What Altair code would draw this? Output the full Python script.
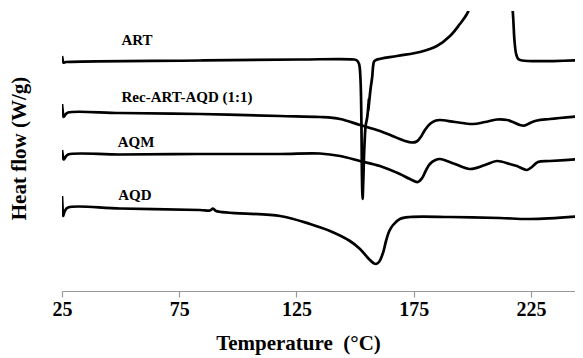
import altair as alt
import pandas as pd

# Temperature (°C) and relative heat flow (arbitrary offset units)
art_t = [25.0, 25.3, 25.6, 26.7, 83.8, 126.5, 149.5, 150.8, 151.7, 152.3, 152.7, 152.9, 153.2,
         153.5, 153.9, 154.5, 155.2, 155.9, 155.6, 156.6, 157.3, 157.7, 158.1, 158.9, 167.9,
         177.7, 184.9, 190.5, 194.7, 197.7, 199.8, 203.2, 209.6, 213.9, 216.3, 217.3, 218.0,
         218.7, 219.6, 221.2, 247.2]
art_v = [235, 231, 228.5, 229, 230.5, 231.5, 231.5, 230.5, 227, 212, 170, 120, 92,
         110, 140, 165, 174, 192, 180, 202, 214, 225, 229.5, 231, 235,
         239, 245, 255, 267, 277, 290, 330, 370, 350, 300, 278, 250,
         237, 232, 230.5, 231]

rec_t = [25.0, 25.3, 25.7, 26.5, 27.6, 49.7, 83.8, 118.0, 135.0, 143.6, 152.1, 160.6, 167.0,
         171.3, 174.3, 176.3, 178.3, 179.8, 181.9, 184.5, 186.2, 192.6, 200.3, 205.4, 210.5,
         214.8, 217.3, 220.3, 222.4, 224.6, 227.6, 233.1, 247.2]
rec_v = [187, 180, 174, 176.5, 178.5, 178, 177, 175, 174, 172, 166, 160, 154,
         150, 148.5, 149.5, 155, 161, 167, 170.5, 171, 169, 167, 169, 171.5,
         171, 169, 166, 165.5, 168, 170.5, 172, 175]

aqm_t = [25.0, 25.3, 25.7, 26.5, 27.6, 49.7, 83.8, 118.0, 135.0, 143.6, 152.1, 160.6, 169.1,
         173.4, 176.8, 178.6, 180.1, 181.9, 184.3, 186.2, 192.6, 199.0, 205.4, 210.5, 216.0,
         219.0, 223.3, 225.4, 228.0, 233.1, 247.2]
aqm_v = [141, 136, 131.5, 134, 136.5, 136.5, 137, 137, 137.5, 135, 130, 125, 117,
         112, 109, 113, 120, 127, 131, 132, 127, 122, 126, 130, 127,
         125, 121, 124, 129, 130, 132]

aqd_t = [25.0, 25.2, 25.5, 26.2, 27.6, 49.7, 83.8, 88.1, 89.4, 90.7, 118.0, 130.8, 139.3,
         147.8, 152.1, 155.5, 157.8, 158.9, 160.2, 161.9, 163.2, 164.6, 166.2, 169.1, 173.4,
         190.5, 211.8, 224.6, 247.2]
aqd_v = [95, 85, 75, 80, 83.5, 82.5, 81, 80.5, 82.5, 80, 75, 67, 60,
         50, 42, 33, 28, 27, 29, 38, 50, 60, 66, 72, 74,
         74, 73, 72, 75]

series_names = ["ART", "Rec-ART-AQD (1:1)", "AQM", "AQD"]
label_t = [57.0, 78.3, 56.6, 56.1]
label_v = [251, 194, 149, 96]

tick_values = [25, 75, 125, 175, 225]

rows = []
for name, ts, vs in zip(series_names, [art_t, rec_t, aqm_t, aqd_t], [art_v, rec_v, aqm_v, aqd_v]):
    for i, (t, v) in enumerate(zip(ts, vs)):
        rows.append({"series": name, "i": i, "T": t, "v": v})
df = pd.DataFrame(rows)
labels_df = pd.DataFrame({"series": series_names, "T": label_t, "v": label_v})

FONT = "Liberation Serif"

x_enc = alt.X(
    "T:Q",
    scale=alt.Scale(domain=[25, 243.8], nice=False, zero=False),
    axis=alt.Axis(
        values=tick_values,
        title="Temperature\u00a0 (°C)",
        titleFont=FONT, titleFontSize=21, titleFontWeight="bold", titleColor="black",
        titleX=236, titleY=52, titleAlign="center", titleBaseline="middle",
        labelFont=FONT, labelFontSize=20, labelFontWeight="bold", labelColor="black",
        labelPadding=2, labelOverlap=False, labelFlush=False,
        domainColor="#999999", domainWidth=1.2, tickColor="#999999", tickSize=6, tickWidth=1.2,
        grid=False,
    ),
)
y_enc = alt.Y(
    "v:Q",
    scale=alt.Scale(domain=[0, 280], nice=False, zero=False),
    axis=alt.Axis(
        labels=False, ticks=False, domain=False, grid=False,
        title="Heat flow (W/g)",
        titleFont=FONT, titleFontSize=21, titleFontWeight="bold", titleColor="black",
        titleX=-43, titleY=137, titleAngle=270, titleAlign="center", titleBaseline="middle",
    ),
)

lines = alt.Chart(df).mark_line(
    color="black", strokeWidth=2.7, clip=True, strokeJoin="round", interpolate="catmull-rom"
).encode(x=x_enc, y=y_enc, detail="series:N", order="i:Q")

texts = alt.Chart(labels_df).mark_text(
    font=FONT, fontSize=15, fontWeight="bold", color="black", align="center", baseline="middle"
).encode(x=alt.X("T:Q"), y=alt.Y("v:Q"), text="series:N")

chart = alt.layer(lines, texts).properties(
    width=513, height=280,
    autosize=alt.AutoSizeParams(type="none"),
    padding={"left": 54, "top": 3, "right": 0, "bottom": 64},
).configure_view(stroke=None)

chart.save("out.html", embed_options={"renderer": "svg", "actions": False})
